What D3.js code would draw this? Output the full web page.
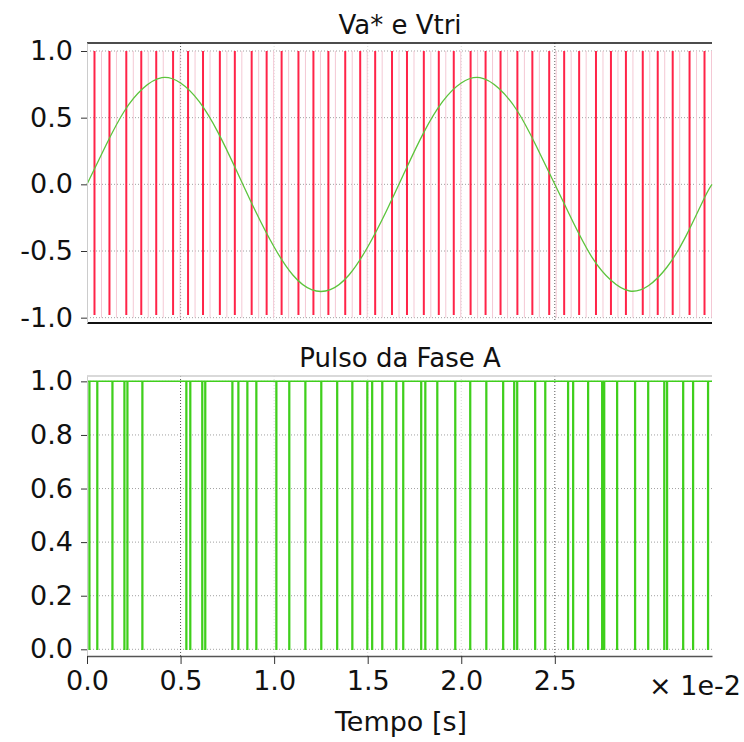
<!DOCTYPE html>
<html>
  <head>
    <meta charset="UTF-8" />
    <title>Va* e Vtri</title>
    <script src="https://d3js.org/d3.v7.min.js"></script>
    <style>
      body { margin: 0; background: #fff; }
      text { font-family: "DejaVu Sans", Verdana, sans-serif; fill: #111; }
    </style>
  </head>
  <body>
    <svg id="chart" width="744" height="742"></svg>
    <script>
      // tempo em unidades de 1e-2 s
      const sineT = [0, 0.1, 0.2, 0.3, 0.4, 0.5, 0.6, 0.7, 0.8, 0.9, 1.0, 1.1, 1.2, 1.3, 1.4, 1.5, 1.6,
        1.7, 1.8, 1.9, 2.0, 2.1, 2.2, 2.3, 2.4, 2.5, 2.6, 2.7, 2.8, 2.9, 3.0, 3.1, 3.2, 3.3, 3.34];
      const sineV = [0, 0.29, 0.55, 0.72, 0.8, 0.76, 0.62, 0.39, 0.1, -0.2, -0.47, -0.68, -0.79, -0.79,
        -0.68, -0.47, -0.2, 0.1, 0.39, 0.62, 0.76, 0.8, 0.72, 0.55, 0.29, 0.0, -0.29, -0.55, -0.72,
        -0.8, -0.76, -0.62, -0.39, -0.1, 0.0];

      // portadora triangular: instantes das linhas vermelhas
      const carrierT = [0.04, 0.12, 0.21, 0.29, 0.37, 0.46, 0.54, 0.62, 0.71, 0.79, 0.88, 0.96, 1.04,
        1.13, 1.21, 1.29, 1.38, 1.46, 1.54, 1.63, 1.71, 1.8, 1.88, 1.96, 2.05, 2.13, 2.21, 2.3, 2.38,
        2.47, 2.55, 2.63, 2.72, 2.8, 2.88, 2.97, 3.05, 3.13, 3.22, 3.3];

      // pulso da fase A: instantes em que cai para 0
      const pulseT = [0.011, 0.053, 0.134, 0.198, 0.214, 0.294, 0.529, 0.55, 0.614, 0.63, 0.775, 0.807,
        0.855, 0.903, 1.01, 1.079, 1.165, 1.25, 1.335, 1.416, 1.496, 1.522, 1.576, 1.651, 1.688, 1.784,
        1.806, 1.87, 1.966, 2.046, 2.132, 2.222, 2.281, 2.297, 2.393, 2.447, 2.569, 2.596, 2.676, 2.751,
        2.762, 2.831, 2.927, 2.997, 3.083, 3.098, 3.184, 3.237, 3.317];

      const xTicks = [0, 0.5, 1.0, 1.5, 2.0, 2.5];
      const yTicksTop = [1.0, 0.5, 0.0, -0.5, -1.0];
      const yTicksBottom = [1.0, 0.8, 0.6, 0.4, 0.2, 0.0];

      const svg = d3.select("#chart");
      const left = 87, right = 712;
      const font = "'DejaVu Sans', Verdana, sans-serif";

      const x = d3.scaleLinear().domain([0, 3.34]).range([left, right]);
      const yTop = d3.scaleLinear().domain([-1.04, 1.06]).range([323, 43]);
      const yBot = d3.scaleLinear().domain([-0.025, 1.02]).range([656, 376]);
      const fmt = (d) => d.toFixed(1);

      const drawGrid = (g, y, yTicks, top, bottom) => {
        g.selectAll("line.hgrid")
          .data(yTicks)
          .enter()
          .append("line")
          .attr("x1", left)
          .attr("x2", right)
          .attr("y1", (d) => y(d))
          .attr("y2", (d) => y(d))
          .attr("stroke", "#555")
          .attr("stroke-dasharray", "1,2")
          .attr("opacity", 0.55);
        g.selectAll("line.vgrid")
          .data(xTicks.slice(1))
          .enter()
          .append("line")
          .attr("x1", (d) => x(d))
          .attr("x2", (d) => x(d))
          .attr("y1", top)
          .attr("y2", bottom)
          .attr("stroke", "#444")
          .attr("stroke-dasharray", "1,2")
          .attr("opacity", (d) => (d === 0.5 || d === 2.5 ? 0.9 : 0.2));
      };

      const drawYAxis = (y, yTicks) => {
        const ax = svg
          .append("g")
          .attr("transform", `translate(${left},0)`)
          .call(
            d3.axisLeft(y).tickValues(yTicks).tickFormat(fmt)
              .tickSize(6).tickSizeOuter(0).tickPadding(8)
          );
        ax.select(".domain").attr("stroke", "#ccc");
        ax.selectAll(".tick line").attr("stroke", "#333");
        ax.selectAll("text")
          .style("font-size", "27px")
          .style("font-family", font)
          .attr("fill", "#111");
      };

      // ---- painel superior ----
      const gTop = svg.append("g");
      drawGrid(gTop, yTop, yTicksTop, 43, 323);

      gTop
        .selectAll("line.carrierfaint")
        .data(carrierT)
        .enter()
        .append("line")
        .attr("x1", (d) => x(d) + 7)
        .attr("x2", (d) => x(d) + 7)
        .attr("y1", yTop(1))
        .attr("y2", yTop(-1))
        .attr("stroke", "#f4c8d4")
        .attr("stroke-width", 1);

      gTop
        .selectAll("line.carrier")
        .data(carrierT)
        .enter()
        .append("line")
        .attr("x1", (d) => x(d))
        .attr("x2", (d) => x(d))
        .attr("y1", yTop(1))
        .attr("y2", yTop(-0.98))
        .attr("stroke", "#ff2448")
        .attr("stroke-width", 2);

      const sineLine = d3
        .line()
        .x((d, i) => x(sineT[i]))
        .y((d) => yTop(d))
        .curve(d3.curveNatural);

      gTop
        .append("path")
        .datum(sineV)
        .attr("d", sineLine)
        .attr("fill", "none")
        .attr("stroke", "#5cc43c")
        .attr("stroke-width", 1.3);

      gTop.append("line").attr("x1", left).attr("x2", right).attr("y1", 43).attr("y2", 43)
        .attr("stroke", "#111").attr("stroke-width", 1.5);
      gTop.append("line").attr("x1", left).attr("x2", right).attr("y1", 323).attr("y2", 323)
        .attr("stroke", "#111").attr("stroke-width", 2);

      drawYAxis(yTop, yTicksTop);

      svg.append("text").attr("x", 400).attr("y", 34).attr("text-anchor", "middle")
        .style("font-size", "26px").text("Va* e Vtri");

      // ---- painel inferior ----
      const gBot = svg.append("g");
      drawGrid(gBot, yBot, yTicksBottom, 376, 656);

      gBot.append("line").attr("x1", left).attr("x2", right).attr("y1", 376).attr("y2", 376)
        .attr("stroke", "#ccc").attr("stroke-width", 1.5);

      const w = 0.004;
      const pulsePts = [[0, 1]];
      pulseT.forEach((t) => {
        pulsePts.push([t, 1], [t, 0], [t + w, 0], [t + w, 1]);
      });
      pulsePts.push([3.34, 1]);

      gBot
        .append("path")
        .datum(pulsePts)
        .attr("d", d3.line().x((d) => x(d[0])).y((d) => yBot(d[1])))
        .attr("fill", "none")
        .attr("stroke", "#3fcf1c")
        .attr("stroke-width", 1.5);

      drawYAxis(yBot, yTicksBottom);

      const xAx = svg
        .append("g")
        .attr("transform", "translate(0,656)")
        .call(
          d3.axisBottom(x).tickValues(xTicks).tickFormat(fmt)
            .tickSize(8).tickSizeOuter(0).tickPadding(7)
        );
      xAx.select(".domain").attr("stroke", "#555").attr("stroke-width", 1.5);
      xAx.selectAll(".tick line").attr("stroke", "#333");
      xAx.selectAll("text")
        .style("font-size", "27px")
        .style("font-family", font)
        .attr("fill", "#111");

      svg.append("text").attr("x", 400).attr("y", 367).attr("text-anchor", "middle")
        .style("font-size", "26px").text("Pulso da Fase A");

      svg.append("text").attr("x", 741).attr("y", 695).attr("text-anchor", "end")
        .style("font-size", "27px").text("× 1e-2");

      svg.append("text").attr("x", 401).attr("y", 731).attr("text-anchor", "middle")
        .style("font-size", "27px").text("Tempo [s]");
    </script>
  </body>
</html>
